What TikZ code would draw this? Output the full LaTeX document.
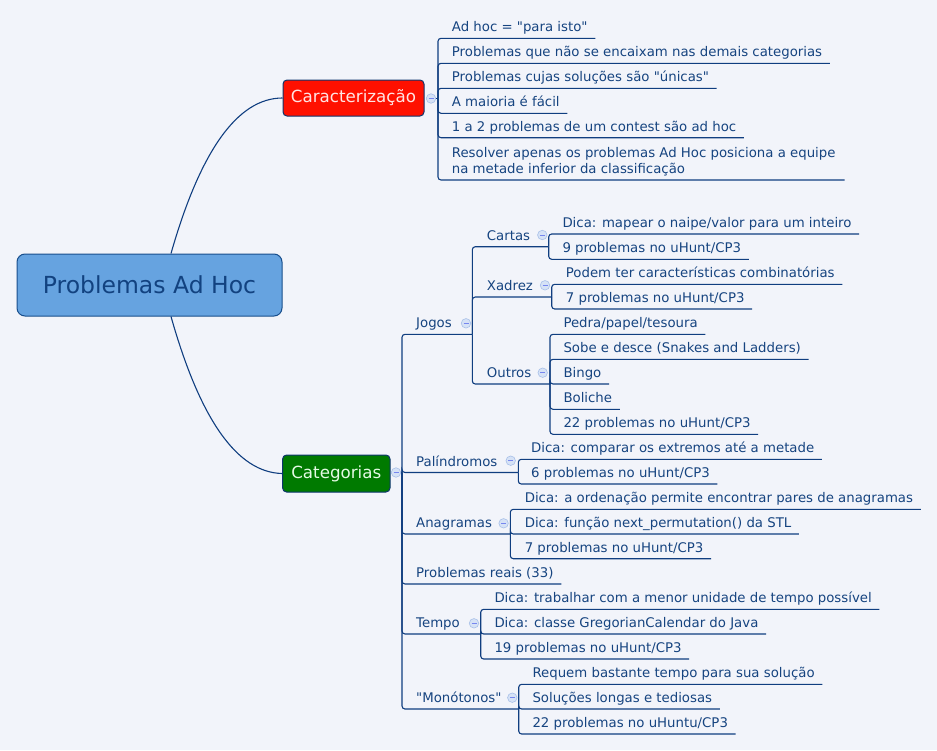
\documentclass[tikz,border=0pt]{standalone}
\usepackage{fontspec}
\newfontfamily\dv{DejaVu Sans}
\definecolor{bg}{RGB}{242,244,250}
\definecolor{ink}{RGB}{22,68,128}
\definecolor{rootink}{RGB}{18,66,128}
\definecolor{lin}{RGB}{16,62,128}
\definecolor{rootfill}{RGB}{102,163,224}
\definecolor{rootdraw}{RGB}{24,78,140}
\definecolor{redfill}{RGB}{255,16,0}
\definecolor{redink}{RGB}{255,228,228}
\definecolor{greenfill}{RGB}{0,122,0}
\definecolor{greenink}{RGB}{228,250,228}
\definecolor{circfill}{RGB}{214,226,246}
\definecolor{circdraw}{RGB}{168,192,232}
\tikzset{
  txt/.style={anchor=base west, inner sep=0pt, text=ink, font=\dv\fontsize{13.3}{16}\selectfont},
  conn/.style={draw=lin, line width=1.1pt, rounded corners=3pt},
  curve/.style={draw=lin, line width=1.1pt},
  topbox/.style={rectangle, rounded corners=4pt, draw=lin!85!black, line width=1pt, inner sep=0pt, font=\dv\fontsize{16.7}{20}\selectfont},
  collapse/.style={circle, inner sep=0pt, minimum size=9.5pt, fill=circfill, draw=circdraw, line width=0.6pt,
    path picture={\draw[circdraw!70!blue, line width=0.7pt] ([xshift=-2.5pt]path picture bounding box.center) -- ([xshift=2.5pt]path picture bounding box.center);}},
}
% leaf: name, joint, underline y, text x, text
\newcommand\leaf[5]{%
  \node[txt] (#1) at (#4,{#3-6.5}) {#5};
  \coordinate[xshift=7.5pt] (#1-e) at (#1.east |- 0,#3);
  \draw[conn] (#2) |- (#1-e);
}
% branch: name, joint of parent, underline y, text x, text, joint x, circle x, circle y
\newcommand\branch[8]{%
  \node[txt] (#1) at (#4,{#3-6.5}) {#5};
  \coordinate (#1-j) at (#6,#3);
  \node[collapse] (#1-c) at (#7,#8) {};
  \draw[conn] (#2) |- (#1-j);
}
\begin{document}
\begin{tikzpicture}[x=1pt,y=-1pt]
\fill[bg] (0,0) rectangle (937,750);
\useasboundingbox (0,0) rectangle (937,750);

% root
\node[rectangle, rounded corners=8pt, fill=rootfill, draw=rootdraw, line width=1pt,
  minimum width=265pt, minimum height=62pt, inner sep=0pt, text=rootink,
  font=\dv\fontsize{23.5}{28}\selectfont] (root) at (149.5,285) {Problemas Ad Hoc};

% main topics
\node[topbox, fill=redfill, text=redink, minimum width=141pt, minimum height=36pt] (carac) at (353.5,98) {Caracterização};
\node[topbox, fill=greenfill, text=greenink, minimum width=107.4pt, minimum height=37pt] (cat) at (336.3,473.5) {Categorias};

\draw[curve] ([xshift=21.5pt]root.north) .. controls (200.3,150.7) and (237.7,98) .. (carac.west);
\draw[curve] ([xshift=21.5pt]root.south) .. controls (200.3,420.3) and (237.5,472.5) .. (cat.west);

% Caracterizacao
\node[collapse] (carac-c) at (431,98.5) {};
\coordinate (carac-j) at (438,98.5);
\draw[curve] (carac-c.east) -- (carac-j);
\leaf{c1}{carac-j}{38.3}{451.7}{Ad hoc = "para isto"}
\leaf{c2}{carac-j}{63.3}{451.7}{Problemas que não se encaixam nas demais categorias}
\leaf{c3}{carac-j}{88.3}{451.7}{Problemas cujas soluções são "únicas"}
\leaf{c4}{carac-j}{113.3}{451.7}{A maioria é fácil}
\leaf{c5}{carac-j}{137.7}{451.7}{1 a 2 problemas de um contest são ad hoc}
\node[txt, anchor=south west, align=left] (c6) at (451.7,176.3) {Resolver apenas os problemas Ad Hoc posiciona a equipe\\na metade inferior da classificação};
\coordinate[xshift=9pt] (c6-e) at (c6.east |- 0,180);
\draw[conn] (carac-j) |- (c6-e);

% Categorias
\node[collapse] (cat-c) at (396,472.5) {};
\coordinate (cat-j) at (402,472.5);
\draw[curve] (cat-c.east) -- (cat-j);

\branch{jogos}{cat-j}{334.3}{416}{Jogos}{472.3}{466}{323.3}
\branch{pal}{cat-j}{472.5}{416}{Palíndromos}{518.3}{510.7}{460.7}
\branch{ana}{cat-j}{534}{416}{Anagramas}{510.3}{503.6}{523.3}
\leaf{reais}{cat-j}{584}{416}{Problemas reais (33)}
\branch{tempo}{cat-j}{634}{416}{Tempo}{480.7}{474}{623.3}
\branch{mono}{cat-j}{709}{416}{"Monótonos"}{518.7}{512.3}{697.7}

% Jogos
\branch{cartas}{jogos-j}{246.7}{486.7}{Cartas}{548.7}{542.3}{235}
\branch{xadrez}{jogos-j}{297}{486.7}{Xadrez}{551.7}{545}{285.3}
\branch{outros}{jogos-j}{384}{486.7}{Outros}{550}{542.7}{372.7}

\leaf{ca1}{cartas-j}{234}{562.3}{Dica: mapear o naipe/valor para um inteiro}
\leaf{ca2}{cartas-j}{259.3}{562.3}{9 problemas no uHunt/CP3}

\leaf{xa1}{xadrez-j}{284.3}{565.7}{Podem ter características combinatórias}
\leaf{xa2}{xadrez-j}{309}{565.7}{7 problemas no uHunt/CP3}

\leaf{ou1}{outros-j}{334.3}{563.3}{Pedra/papel/tesoura}
\leaf{ou2}{outros-j}{359.3}{563.3}{Sobe e desce (Snakes and Ladders)}
\leaf{ou3}{outros-j}{384}{563.3}{Bingo}
\leaf{ou4}{outros-j}{409.3}{563.3}{Boliche}
\leaf{ou5}{outros-j}{434.3}{563.3}{22 problemas no uHunt/CP3}

% Palindromos
\leaf{pa1}{pal-j}{459.3}{531}{Dica: comparar os extremos até a metade}
\leaf{pa2}{pal-j}{484}{531}{6 problemas no uHunt/CP3}

% Anagramas
\leaf{an1}{ana-j}{509.3}{524.6}{Dica: a ordenação permite encontrar pares de anagramas}
\leaf{an2}{ana-j}{534}{524.6}{Dica: função next\_permutation() da STL}
\leaf{an3}{ana-j}{558.7}{524.6}{7 problemas no uHunt/CP3}

% Tempo
\leaf{te1}{tempo-j}{609.3}{494.3}{Dica: trabalhar com a menor unidade de tempo possível}
\leaf{te2}{tempo-j}{634}{494.3}{Dica: classe GregorianCalendar do Java}
\leaf{te3}{tempo-j}{659}{494.3}{19 problemas no uHunt/CP3}

% Monotonos
\leaf{mo1}{mono-j}{684.3}{532.3}{Requem bastante tempo para sua solução}
\leaf{mo2}{mono-j}{709}{532.3}{Soluções longas e tediosas}
\leaf{mo3}{mono-j}{734}{532.3}{22 problemas no uHuntu/CP3}
\end{tikzpicture}
\end{document}
